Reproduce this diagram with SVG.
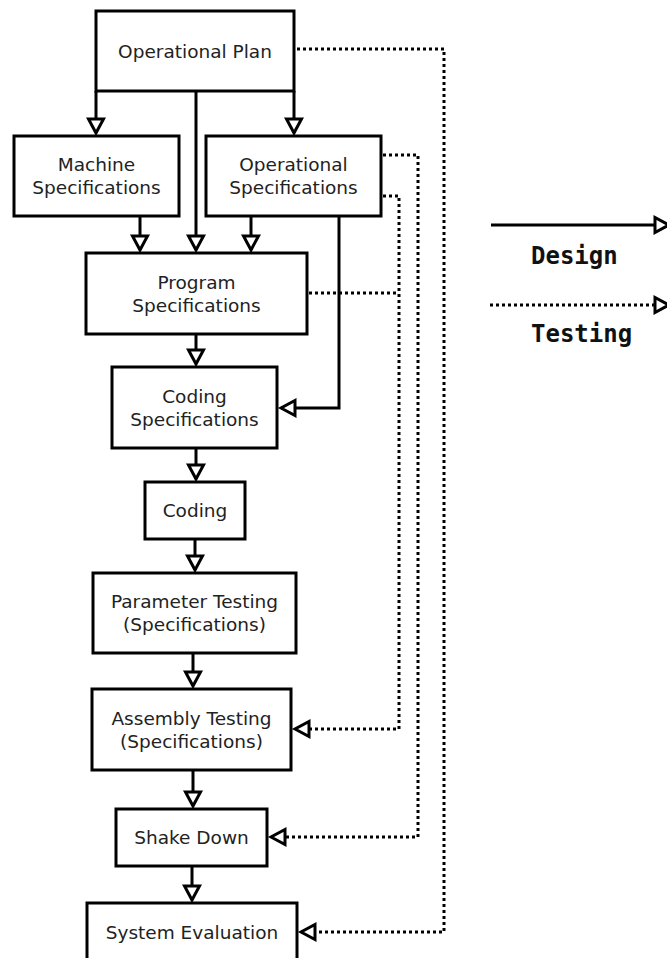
<svg xmlns="http://www.w3.org/2000/svg" width="667" height="958" viewBox="0 0 667 958">
  <style>
    .box { fill: #ffffff; stroke: #000000; stroke-width: 3; }
    .lbl { font-family: "DejaVu Sans", "Noto Sans", sans-serif; font-size: 18.5px; fill: #222222; text-anchor: middle; }
    .leg { font-family: "DejaVu Sans Mono", "Liberation Mono", monospace; font-size: 24px; font-weight: bold; fill: #111111; }
    .solid { fill: none; stroke: #000000; stroke-width: 3; marker-end: url(#tri); }
    .dot { fill: none; stroke: #000000; stroke-width: 3; stroke-dasharray: 3 3; marker-end: url(#tri); }
    .dotplain { fill: none; stroke: #000000; stroke-width: 3; stroke-dasharray: 3 3; }
  </style>
  <defs>
    <!-- hollow triangular arrowhead, tip at the path end -->
    <marker id="tri" markerUnits="userSpaceOnUse" viewBox="-20 -12 26 24" refX="0" refY="0" markerWidth="26" markerHeight="24" orient="auto">
      <path d="M0,0 L-14,-7.5 L-14,7.5 Z" fill="#ffffff" stroke="#000000" stroke-width="3" stroke-linejoin="miter"/>
    </marker>
  </defs>
  <rect width="667" height="958" fill="#ffffff"/>

  <!-- connectors -->
  <g id="connectors">
    <!-- design flow (solid) -->
    <path class="solid" d="M96,91 V133"/>
    <path class="solid" d="M294,91 V133"/>
    <path class="solid" d="M196,91 V250"/>
    <path class="solid" d="M140,216 V250"/>
    <path class="solid" d="M251,216 V250"/>
    <path class="solid" d="M196,334 V364"/>
    <path class="solid" d="M339,216 V408 H281"/>
    <path class="solid" d="M196,448 V479"/>
    <path class="solid" d="M195,539 V570"/>
    <path class="solid" d="M193,653 V686"/>
    <path class="solid" d="M193,770 V806"/>
    <path class="solid" d="M192,866 V900"/>

    <!-- testing flow (dotted) -->
    <path class="dot" d="M297,49 H444 V932 H301"/>
    <path class="dot" d="M383,155 H418 V837 H271"/>
    <path class="dot" d="M383,196 H399 V729 H295"/>
    <path class="dotplain" d="M309,293 H399"/>

    <!-- legend -->
    <path class="solid" d="M491,225 H669"/>
    <path class="dot" d="M490,305 H669"/>
  </g>

  <g id="operational-plan">
    <rect class="box" x="96" y="11" width="198" height="80"/>
    <text class="lbl" x="195" y="58">Operational Plan</text>
  </g>

  <g id="machine-specifications">
    <rect class="box" x="14" y="136" width="165" height="80"/>
    <text class="lbl" x="96.5" y="171">Machine</text>
    <text class="lbl" x="96.5" y="194">Specifications</text>
  </g>

  <g id="operational-specifications">
    <rect class="box" x="206" y="136" width="175" height="80"/>
    <text class="lbl" x="293.5" y="171">Operational</text>
    <text class="lbl" x="293.5" y="194">Specifications</text>
  </g>

  <g id="program-specifications">
    <rect class="box" x="86" y="253" width="221" height="81"/>
    <text class="lbl" x="196.5" y="288.5">Program</text>
    <text class="lbl" x="196.5" y="311.5">Specifications</text>
  </g>

  <g id="coding-specifications">
    <rect class="box" x="112" y="367" width="165" height="81"/>
    <text class="lbl" x="194.5" y="402.5">Coding</text>
    <text class="lbl" x="194.5" y="425.5">Specifications</text>
  </g>

  <g id="coding">
    <rect class="box" x="145" y="482" width="100" height="57"/>
    <text class="lbl" x="195" y="517">Coding</text>
  </g>

  <g id="parameter-testing">
    <rect class="box" x="93" y="573" width="203" height="80"/>
    <text class="lbl" x="194.5" y="608">Parameter Testing</text>
    <text class="lbl" x="194.5" y="631">(Specifications)</text>
  </g>

  <g id="assembly-testing">
    <rect class="box" x="92" y="689" width="199" height="81"/>
    <text class="lbl" x="191.5" y="724.5">Assembly Testing</text>
    <text class="lbl" x="191.5" y="747.5">(Specifications)</text>
  </g>

  <g id="shake-down">
    <rect class="box" x="116" y="809" width="151" height="57"/>
    <text class="lbl" x="191.5" y="844">Shake Down</text>
  </g>

  <g id="system-evaluation">
    <rect class="box" x="87" y="903" width="210" height="60"/>
    <text class="lbl" x="192" y="938.5">System Evaluation</text>
  </g>

  <g id="legend">
    <text class="leg" x="531" y="264">Design</text>
    <text class="leg" x="531" y="342">Testing</text>
  </g>
</svg>
